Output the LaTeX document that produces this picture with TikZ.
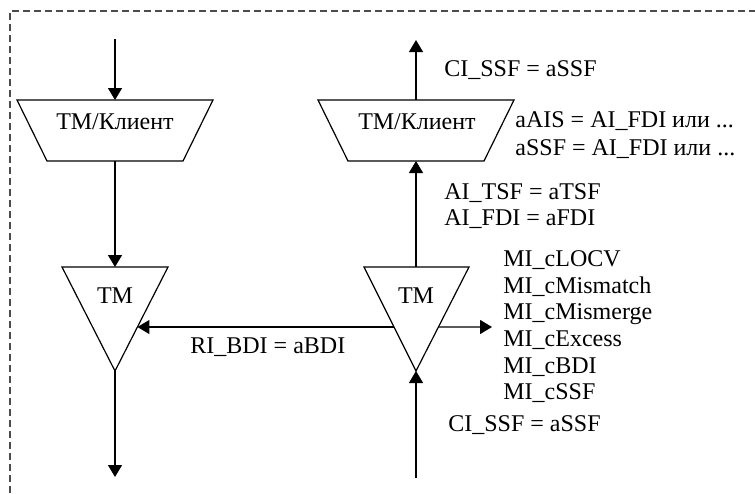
\documentclass[tikz,border=0pt]{standalone}
\usepackage{fontspec}
\setmainfont{Liberation Serif}
\usetikzlibrary{arrows.meta,calc}
\begin{document}
\begin{tikzpicture}[x=0.5pt,y=-0.5pt,
  shp/.style={line width=0.6pt, draw=black},
  conn/.style={line width=0.6pt, -{Triangle[length=6pt,width=7pt]}},
  lbl/.style={font=\fontsize{12}{13.4}\selectfont, inner sep=0pt, anchor=base west},
  ctr/.style={font=\fontsize{12}{13.4}\selectfont, inner sep=0pt, anchor=base},
  frame/.style={draw=black!70, line width=0.65pt, dash pattern=on 3.5pt off 2pt}]
\useasboundingbox (0,0) rectangle (755,493);
\draw[frame] (10,493) -- (10,11) -- (755,11);
% left trapezoid
\coordinate (LTtl) at (17,100); \coordinate (LTtr) at (213,100);
\coordinate (LTbr) at (183,161); \coordinate (LTbl) at (47,161);
\coordinate (LTt) at (115,100); \coordinate (LTb) at (115,161);
\draw[shp] (LTtl) -- (LTtr) -- (LTbr) -- (LTbl) -- cycle;
\node[ctr] (LTtext) at (115,129) {ТМ/Клиент};
% right trapezoid
\coordinate (RTtl) at (318,100); \coordinate (RTtr) at (514,100);
\coordinate (RTbr) at (484,161); \coordinate (RTbl) at (348,161);
\coordinate (RTt) at (416,100); \coordinate (RTb) at (416,161);
\draw[shp] (RTtl) -- (RTtr) -- (RTbr) -- (RTbl) -- cycle;
\node[ctr] (RTtext) at (417,129) {ТМ/Клиент};
% left triangle
\coordinate (LGl) at (62,267); \coordinate (LGr) at (168,267);
\coordinate (LGa) at (115,371); \coordinate (LGt) at (115,267);
\draw[shp] (LGl) -- (LGr) -- (LGa) -- cycle;
\node[ctr] (LGtext) at (115,303) {ТМ};
% right triangle
\coordinate (RGl) at (364,267); \coordinate (RGr) at (469,267);
\coordinate (RGa) at (416,371); \coordinate (RGt) at (416,267);
\draw[shp] (RGl) -- (RGr) -- (RGa) -- cycle;
\node[ctr] (RGtext) at (416,303) {ТМ};
% free ends
\coordinate (inL) at (115,39);
\coordinate (outL) at (115,477);
\coordinate (outR) at (416,40);
\coordinate (inR) at (416,478);
\coordinate (RGle) at ($(RGl)!0.577!(RGa)$);
\coordinate (LGre) at ($(LGr)!0.577!(LGa)$);
\coordinate (RGre) at ($(RGr)!0.577!(RGa)$);
\coordinate (miEnd) at (492,327);
% connectors
\draw[conn] (inL) -- (LTt);
\draw[conn] (LTb) -- (LGt);
\draw[conn] (LGa) -- (outL);
\draw[conn] (inR) -- (RGa);
\draw[conn] (RGt) -- (RTb);
\draw[conn] (RTt) -- (outR);
\draw[conn] (RGle) -- (LGre);
\draw[conn] (RGre) -- (miEnd);
% labels
\node[lbl] (l1) at (444,76) {CI\_SSF = aSSF};
\node[lbl] (l2) at (515,127) {aAIS = AI\_FDI или ...};
\node[lbl] (l3) at (515,155) {aSSF = AI\_FDI или ...};
\node[lbl] (l4) at (444,199) {AI\_TSF = aTSF};
\node[lbl] (l5) at (444,225) {AI\_FDI = aFDI};
\node[lbl] (m1) at (503,266) {MI\_cLOCV};
\node[lbl] (m2) at (503,293) {MI\_cMismatch};
\node[lbl] (m3) at (503,319) {MI\_cMismerge};
\node[lbl] (m4) at (503,346) {MI\_cExcess};
\node[lbl] (m5) at (503,373) {MI\_cBDI};
\node[lbl] (m6) at (503,399) {MI\_cSSF};
\node[lbl] (l6) at (448,431) {CI\_SSF = aSSF};
\node[lbl] (l7) at (190,353) {RI\_BDI = aBDI};
\end{tikzpicture}
\end{document}
